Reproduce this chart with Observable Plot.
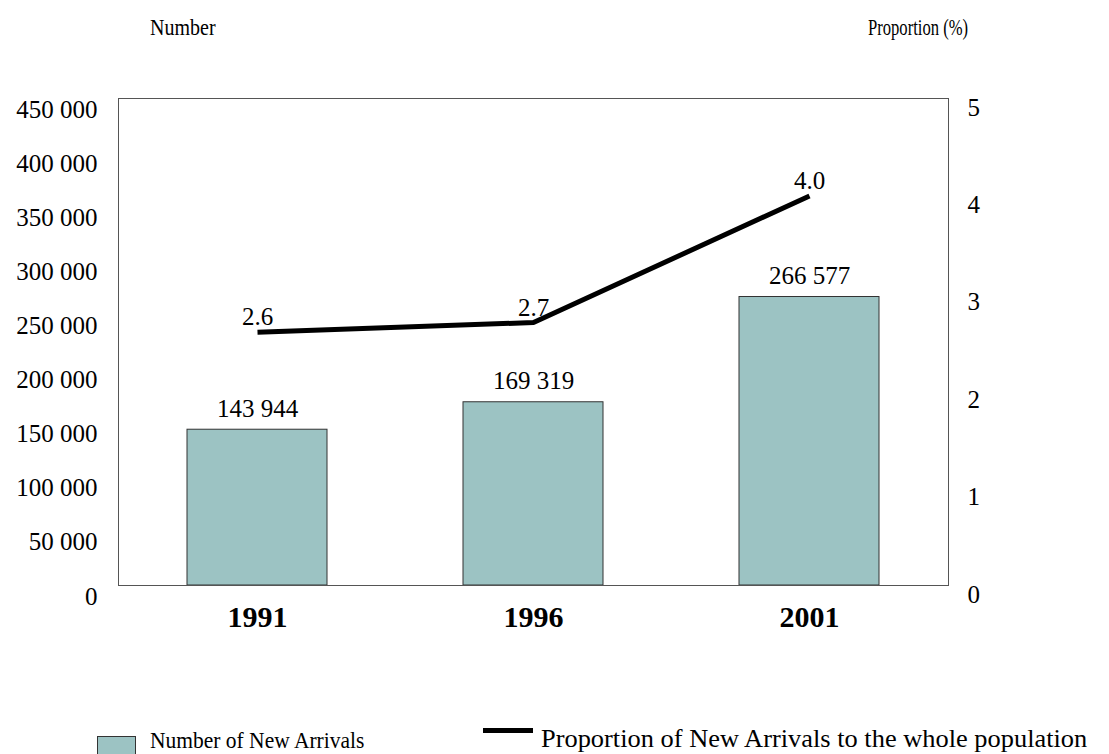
<!DOCTYPE html>
<html>
<head>
<meta charset="utf-8">
<script src="https://cdn.jsdelivr.net/npm/d3@7"></script>
<script src="https://cdn.jsdelivr.net/npm/@observablehq/plot@0.6"></script>
<style>
  html, body { margin: 0; padding: 0; background: #fff; }
  #wrap { position: relative; width: 1109px; height: 754px; overflow: hidden; font-family: "Liberation Serif", "Times New Roman", serif; color: #000; }
  #chart { position: absolute; left: 0; top: 0; }
  #chart svg, #chart svg text { font-family: "Liberation Serif", "Times New Roman", serif !important; }
  .t { position: absolute; white-space: nowrap; line-height: 1; transform-origin: left center; }
</style>
</head>
<body>
<div id="wrap">
  <div id="chart"></div>
  <div class="t" style="left:150px; top:17px; font-size:20px; transform:scale(1,1.2);">Number</div>
  <div class="t" style="left:868px; top:17px; font-size:20px; transform:scale(0.83,1.2);">Proportion (%)</div>
  <div style="position:absolute; left:97px; top:736px; width:37px; height:36px; background:#9cc3c3; border:1px solid #333;"></div>
  <div class="t" style="left:150px; top:730px; font-size:21.5px; transform:scale(1,1.1);">Number of New Arrivals</div>
  <div style="position:absolute; left:483px; top:728px; width:50px; height:5px; background:#000;"></div>
  <div class="t" style="left:541px; top:727px; font-size:24px; transform:scale(1.1,1.05);">Proportion of New Arrivals to the whole population</div>
</div>
<script>
const years = ["1991", "1996", "2001"];
const arrivals = [143944, 169319, 266577];
const proportions = [2.6, 2.7, 4.0];
const leftTicks = [0, 50000, 100000, 150000, 200000, 250000, 300000, 350000, 400000, 450000];
const rightTicks = [0, 1, 2, 3, 4, 5];

const ratio = 450000 / 5;
const fmtNum = d => d3.format(",")(d).replace(/,/g, " ");
const serif = "Liberation Serif";

const rows = years.map((y, i) => ({year: y, count: arrivals[i], prop: proportions[i]}));

const chart = Plot.plot({
  width: 1109,
  height: 700,
  marginTop: 98,
  marginBottom: 115,
  marginLeft: 118,
  marginRight: 161,
  style: {fontFamily: serif, color: "#000", background: "transparent"},
  x: {domain: years, paddingInner: 0.494, paddingOuter: 0.247, label: null},
  y: {domain: [0, 450000], label: null},
  marks: [
    Plot.barY(rows, {x: "year", y: "count", fill: "#9cc3c3", stroke: "#333", strokeWidth: 1}),
    Plot.frame({stroke: "#555", strokeWidth: 1}),
    Plot.text(rows, {x: "year", y: "count", text: d => fmtNum(d.count), dy: -21, fontSize: 25, fontFamily: serif, fill: "#000"}),
    Plot.line(rows, {x: "year", y: d => d.prop * ratio, stroke: "#000", strokeWidth: 5, strokeLinecap: "butt", strokeLinejoin: "miter"}),
    Plot.text(rows, {x: "year", y: d => d.prop * ratio, text: d => d.prop.toFixed(1), dy: -15, fontSize: 25, fontFamily: serif, fill: "#000"}),
    Plot.axisY({anchor: "left", ticks: leftTicks, tickSize: 0, tickPadding: 21, tickFormat: fmtNum, fontSize: 25, fontFamily: serif, dy: 11, label: null}),
    Plot.axisY({anchor: "right", ticks: rightTicks.map(d => d * ratio), tickSize: 0, tickPadding: 19, tickFormat: d => String(d / ratio), fontSize: 25, fontFamily: serif, dy: 9, label: null}),
    Plot.axisX({tickSize: 0, tickPadding: 20, fontSize: 30, fontWeight: "bold", fontFamily: serif, label: null})
  ]
});
document.getElementById("chart").appendChild(chart);
</script>
</body>
</html>
